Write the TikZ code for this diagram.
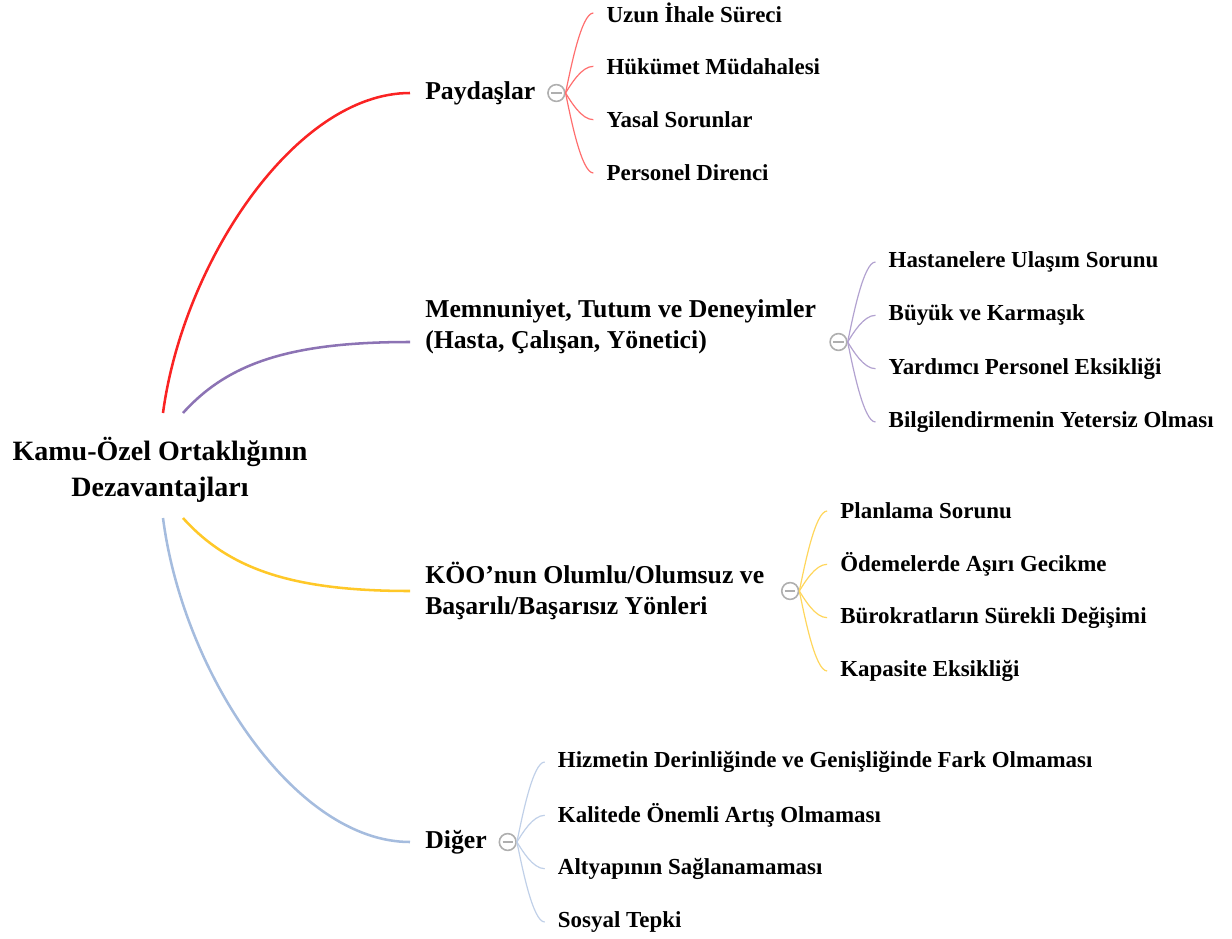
\documentclass[tikz,border=0pt]{standalone}
\usepackage{fontspec}
\setmainfont{Liberation Serif}
\usetikzlibrary{calc,positioning}
\definecolor{redb}{RGB}{250,35,35}
\definecolor{redl}{RGB}{255,110,110}
\definecolor{purb}{RGB}{140,115,180}
\definecolor{purl}{RGB}{178,162,208}
\definecolor{yelb}{RGB}{255,200,40}
\definecolor{yell}{RGB}{255,214,92}
\definecolor{blub}{RGB}{165,188,222}
\definecolor{blul}{RGB}{192,208,232}
\definecolor{tgray}{RGB}{175,175,175}
\tikzset{
  rootnode/.style={font=\fontsize{21}{27}\selectfont\bfseries, align=center, inner sep=0pt},
  mainnode/.style={font=\fontsize{19.3}{23.2}\selectfont\bfseries, align=left, anchor=west, inner ysep=0pt, inner xsep=11.25pt},
  leafnode/.style={font=\fontsize{17.2}{20}\selectfont\bfseries, anchor=west, inner ysep=0pt, inner xsep=9.75pt},
  togg/.style={circle, draw=tgray, line width=1.2pt, fill=white, minimum size=12.6pt, inner sep=0pt,
    path picture={\draw[tgray, line width=1.2pt] ([xshift=2.4pt]path picture bounding box.west) -- ([xshift=-2.4pt]path picture bounding box.east);}},
  mainedge/.style={line width=1.9pt},
  leafedge/.style={line width=0.9pt},
}
\begin{document}
\begin{tikzpicture}[x=0.75pt, y=0.75pt]
	\useasboundingbox (0,0) rectangle (1232,-939);
	\node[rootnode] (root) at (160,-470) {Kamu-Özel Ortaklığının\\Dezavantajları};
	\node[mainnode] (pay) at (410,-93) {Paydaşlar};
	\node[mainnode] (mem) at (410,-327) {Memnuniyet, Tutum ve Deneyimler\\(Hasta, Çalışan, Yönetici)};
	\node[mainnode] (koo) at (410,-591) {KÖO’nun Olumlu/Olumsuz ve\\Başarılı/Başarısız Yönleri};
	\node[mainnode] (dig) at (410,-842) {Diğer};
	\node[togg, right=-2.6pt of pay] (payc) {};
	\node[togg, anchor=west] (memc) at ($(mem.east)+(-2,-15)$) {};
	\node[togg, anchor=west] (kooc) at ($(koo.east)+(1.5,0)$) {};
	\node[togg, right=-2.6pt of dig] (digc) {};
	\draw[mainedge, redb] ($(root.center)+(3,57)$) .. controls +(20,150) and +(-115,0) .. (pay.west);
	\draw[mainedge, purb] ($(root.center)+(23,57)$) .. controls +(45,50) and +(-120,0) .. (mem.west |- memc);
	\draw[mainedge, yelb] ($(root.center)+(23,-48)$) .. controls +(45,-50) and +(-120,0) .. (koo.west |- kooc);
	\draw[mainedge, blub] ($(root.center)+(3,-48)$) .. controls +(20,-155) and +(-115,0) .. (dig.west);
	\foreach \t/\d [count=\i] in {Uzun İhale Süreci/80, Hükümet Müdahalesi/26.7, Yasal Sorunlar/-26.7, Personel Direnci/-80} {
		\node[leafnode] (pay\i) at ($(payc)+(37,\d)$) {\t};
		\draw[leafedge, redl] (payc.east) .. controls +(5,{0.3*\d}) and +(-12,0) .. (pay\i.west);
	}
	\foreach \t/\d [count=\i] in {Hastanelere Ulaşım Sorunu/80, Büyük ve Karmaşık/26.7, Yardımcı Personel Eksikliği/-26.7, Bilgilendirmenin Yetersiz Olması/-80} {
		\node[leafnode] (mem\i) at ($(memc)+(37,\d)$) {\t};
		\draw[leafedge, purl] (memc.east) .. controls +(5,{0.3*\d}) and +(-12,0) .. (mem\i.west);
	}
	\foreach \t/\d [count=\i] in {Planlama Sorunu/80, Ödemelerde Aşırı Gecikme/26.7, Bürokratların Sürekli Değişimi/-26.7, Kapasite Eksikliği/-80} {
		\node[leafnode] (koo\i) at ($(kooc)+(37,\d)$) {\t};
		\draw[leafedge, yell] (kooc.east) .. controls +(5,{0.3*\d}) and +(-12,0) .. (koo\i.west);
	}
	\foreach \t/\d [count=\i] in {Hizmetin Derinliğinde ve Genişliğinde Fark Olmaması/80, Kalitede Önemli Artış Olmaması/26.7, Altyapının Sağlanamaması/-26.7, Sosyal Tepki/-80} {
		\node[leafnode] (dig\i) at ($(digc)+(37,\d)$) {\t};
		\draw[leafedge, blul] (digc.east) .. controls +(5,{0.3*\d}) and +(-12,0) .. (dig\i.west);
	}
\end{tikzpicture}
\end{document}
